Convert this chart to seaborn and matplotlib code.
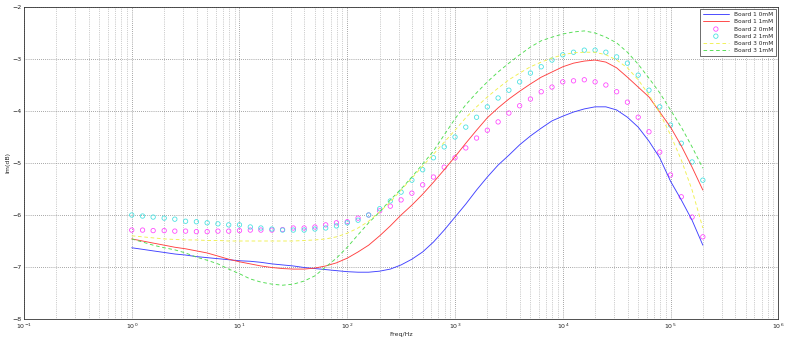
import matplotlib
matplotlib.use("Agg")
import matplotlib.pyplot as plt
import seaborn as sns
from matplotlib.ticker import NullFormatter, FixedLocator, LogFormatterSciNotation

# ---- data ----
freq_hz = [1, 1.26, 1.58, 2.0, 2.51, 3.16, 3.98, 5.01, 6.31, 7.94,
           10, 12.6, 15.8, 20.0, 25.1, 31.6, 39.8, 50.1, 63.1, 79.4,
           100, 126, 158, 200, 251, 316, 398, 501, 631, 794,
           1000, 1259, 1585, 1995, 2512, 3162, 3981, 5012, 6310, 7943,
           10000, 12589, 15849, 19953, 25119, 31623, 39811, 50119, 63096, 79433,
           100000, 125893, 158489, 199526]

board1_0mM = [-6.63, -6.66, -6.69, -6.72, -6.75, -6.77, -6.80, -6.82, -6.84, -6.86,
              -6.88, -6.89, -6.91, -6.94, -6.96, -6.98, -7.01, -7.03, -7.05, -7.07,
              -7.09, -7.10, -7.10, -7.08, -7.04, -6.96, -6.85, -6.71, -6.52, -6.29,
              -6.04, -5.79, -5.52, -5.27, -5.04, -4.85, -4.65, -4.48, -4.33, -4.19,
              -4.10, -4.02, -3.96, -3.92, -3.92, -3.98, -4.12, -4.31, -4.58, -4.90,
              -5.35, -5.71, -6.10, -6.58]

board1_1mM = [-6.46, -6.50, -6.54, -6.58, -6.62, -6.65, -6.69, -6.73, -6.79, -6.85,
              -6.90, -6.94, -6.98, -7.01, -7.03, -7.04, -7.04, -7.02, -6.98, -6.92,
              -6.83, -6.71, -6.58, -6.40, -6.21, -6.00, -5.81, -5.60, -5.37, -5.13,
              -4.88, -4.62, -4.37, -4.13, -3.94, -3.77, -3.62, -3.48, -3.35, -3.25,
              -3.15, -3.08, -3.04, -3.02, -3.06, -3.17, -3.35, -3.54, -3.73, -4.02,
              -4.31, -4.67, -5.08, -5.52]

board2_0mM = [-6.29, -6.29, -6.30, -6.30, -6.31, -6.31, -6.32, -6.32, -6.31, -6.31,
              -6.30, -6.29, -6.29, -6.29, -6.28, -6.25, -6.25, -6.23, -6.19, -6.15,
              -6.13, -6.06, -6.00, -5.92, -5.83, -5.71, -5.58, -5.42, -5.27, -5.08,
              -4.90, -4.71, -4.52, -4.37, -4.21, -4.04, -3.90, -3.77, -3.63, -3.54,
              -3.44, -3.42, -3.40, -3.44, -3.50, -3.63, -3.83, -4.12, -4.40, -4.79,
              -5.23, -5.65, -6.04, -6.42]

board2_1mM = [-6.00, -6.02, -6.04, -6.06, -6.08, -6.12, -6.13, -6.15, -6.17, -6.19,
              -6.19, -6.23, -6.25, -6.27, -6.29, -6.29, -6.29, -6.27, -6.25, -6.21,
              -6.15, -6.10, -6.00, -5.88, -5.73, -5.56, -5.33, -5.13, -4.90, -4.69,
              -4.50, -4.31, -4.12, -3.92, -3.75, -3.60, -3.44, -3.27, -3.15, -3.02,
              -2.92, -2.87, -2.83, -2.83, -2.87, -2.96, -3.08, -3.31, -3.60, -3.92,
              -4.27, -4.62, -4.98, -5.33]

board3_0mM = [-6.40, -6.42, -6.44, -6.46, -6.47, -6.48, -6.48, -6.49, -6.49, -6.50,
              -6.50, -6.50, -6.50, -6.50, -6.50, -6.50, -6.49, -6.48, -6.46, -6.42,
              -6.35, -6.25, -6.12, -5.94, -5.75, -5.52, -5.29, -5.06, -4.83, -4.60,
              -4.37, -4.13, -3.92, -3.73, -3.56, -3.40, -3.27, -3.15, -3.06, -2.98,
              -2.92, -2.88, -2.87, -2.87, -2.92, -3.02, -3.17, -3.40, -3.69, -4.04,
              -4.46, -4.94, -5.52, -6.25]

board3_1mM = [-6.46, -6.52, -6.58, -6.63, -6.67, -6.73, -6.81, -6.87, -6.94, -7.04,
              -7.13, -7.23, -7.29, -7.33, -7.35, -7.33, -7.27, -7.17, -7.00, -6.83,
              -6.62, -6.38, -6.15, -5.94, -5.71, -5.50, -5.27, -5.02, -4.77, -4.46,
              -4.15, -3.88, -3.65, -3.44, -3.25, -3.08, -2.92, -2.77, -2.65, -2.58,
              -2.52, -2.48, -2.46, -2.50, -2.58, -2.69, -2.87, -3.10, -3.37, -3.65,
              -3.98, -4.31, -4.69, -5.10]

series_labels = ["Board 1 0mM", "Board 1 1mM", "Board 2 0mM",
                 "Board 2 1mM", "Board 3 0mM", "Board 3 1mM"]
y_ticks = [-8, -7, -6, -5, -4, -3, -2]
x_ticks = [1e-1, 1e0, 1e1, 1e2, 1e3, 1e4, 1e5, 1e6]
x_label = "Freq/Hz"
y_label = "Im(dB)"

# ---- figure ----
sns.set_theme(style="white")
plt.rcParams['font.family'] = ['DejaVu Sans']
plt.rcParams['mathtext.fontset'] = 'dejavusans'

fig = plt.figure(figsize=(7.89, 3.41), dpi=100)
ax = fig.add_axes([0.0304, 0.0645, 0.956, 0.915])

lw = 0.65
sns.lineplot(x=freq_hz, y=board1_0mM, ax=ax, color="#4040ff", linewidth=lw,
             label=series_labels[0])
sns.lineplot(x=freq_hz, y=board1_1mM, ax=ax, color="#ff4040", linewidth=lw,
             label=series_labels[1])
sns.scatterplot(x=freq_hz, y=board2_0mM, ax=ax, marker="o", s=10,
                facecolor="none", edgecolor="#ff40ff", linewidth=0.55,
                label=series_labels[2])
sns.scatterplot(x=freq_hz, y=board2_1mM, ax=ax, marker="o", s=10,
                facecolor="none", edgecolor="#40e0e0", linewidth=0.55,
                label=series_labels[3])
sns.lineplot(x=freq_hz, y=board3_0mM, ax=ax, color="#f0f050", linewidth=lw,
             linestyle=(0, (4, 3)), label=series_labels[4])
sns.lineplot(x=freq_hz, y=board3_1mM, ax=ax, color="#50dd50", linewidth=lw,
             linestyle=(0, (4, 3)), label=series_labels[5])

ax.set_xscale("log")
ax.set_xlim(x_ticks[0], x_ticks[-1])
ax.set_ylim(y_ticks[0], y_ticks[-1])
ax.yaxis.set_major_locator(FixedLocator(y_ticks))
ax.xaxis.set_major_locator(FixedLocator(x_ticks))
ax.xaxis.set_major_formatter(LogFormatterSciNotation(base=10))
minor_ticks = [m * t for t in x_ticks[:-1] for m in range(2, 10)]
ax.xaxis.set_minor_locator(FixedLocator(minor_ticks))
ax.xaxis.set_minor_formatter(NullFormatter())

ax.grid(True, which="major", axis="both", color="#555555", linestyle=(0, (1, 2)),
        linewidth=0.5)
ax.grid(True, which="minor", axis="x", color="#888888", linestyle=(0, (1, 2)),
        linewidth=0.45)

for s in ax.spines.values():
    s.set_color("#333333")
    s.set_linewidth(0.6)

ax.tick_params(axis="both", which="major", labelsize=4.5, length=2.5,
               width=0.5, direction="in", pad=2, colors="#222222")
ax.tick_params(axis="x", which="minor", length=1.5, width=0.4, direction="in")
ax.set_xlabel(x_label, fontsize=4.5, labelpad=1)
ax.set_ylabel(y_label, fontsize=4.5, labelpad=1)

leg = ax.legend(loc="upper right", fontsize=4.2, frameon=True, fancybox=False,
                edgecolor="#333333", framealpha=1, borderpad=0.5,
                handlelength=4.5, labelspacing=0.35, scatterpoints=1,
                borderaxespad=0.4)
leg.get_frame().set_linewidth(0.5)

fig.savefig("out.png", dpi=100)
